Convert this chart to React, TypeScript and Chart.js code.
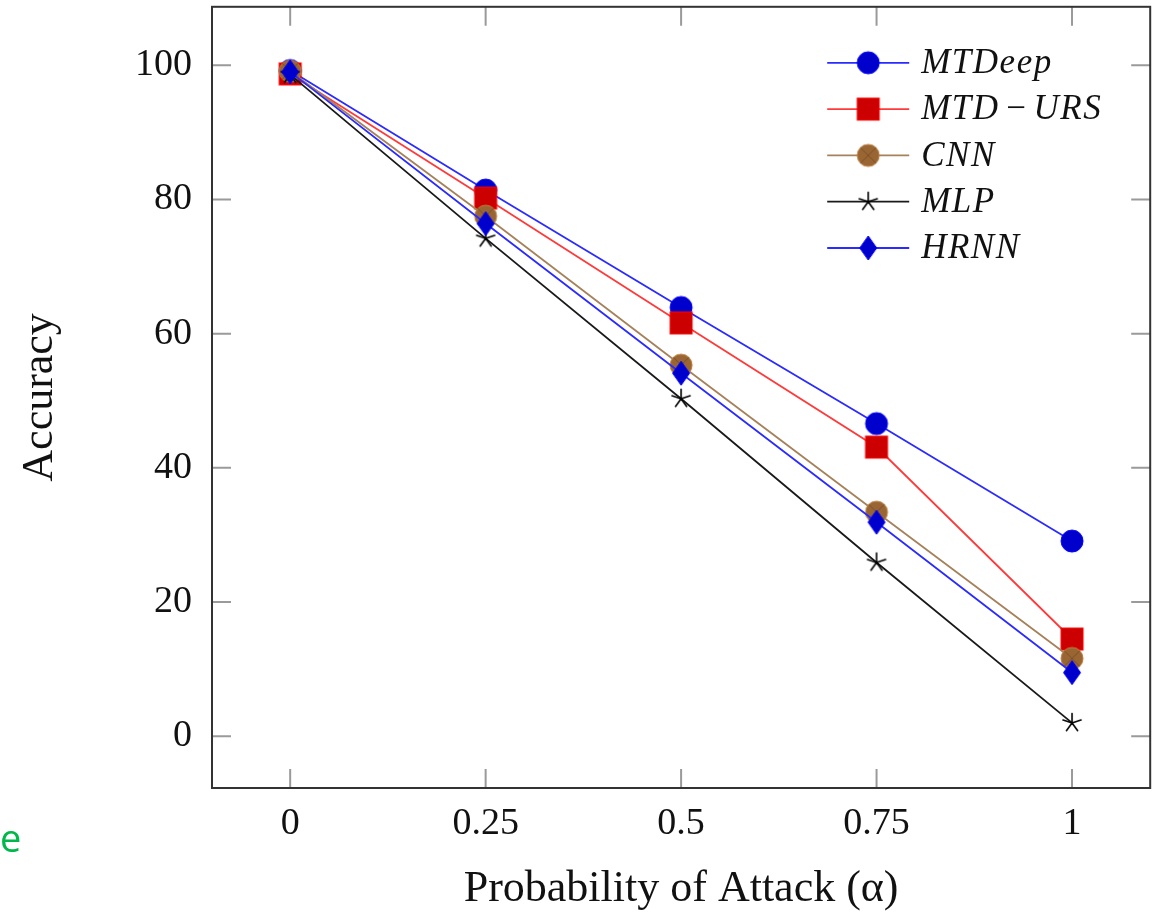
import React, { useEffect, useRef } from "react";
import { Chart, registerables } from "chart.js";
Chart.register(...registerables);

const alphaValues = [0, 0.25, 0.5, 0.75, 1];
const xTickValues = [0, 0.25, 0.5, 0.75, 1];
const xTickLabels = ["0", "0.25", "0.5", "0.75", "1"];
const yTickValues = [0, 20, 40, 60, 80, 100];
const seriesNames = ["MTDeep", "MTD\u200A−\u200AURS", "CNN", "MLP", "HRNN"];
const mtdeep = [99.2, 81.4, 63.9, 46.6, 29.1];
const mtdUrs = [98.7, 80.2, 61.6, 43.1, 14.5];
const cnn = [99.1, 77.5, 55.3, 33.4, 11.6];
const mlp = [98.6, 74.2, 50.3, 25.9, 2.0];
const hrnn = [99.0, 76.4, 54.1, 31.9, 9.5];

const SERIF = "'Liberation Serif', 'DejaVu Serif', serif";

function mk(w: number, h: number, draw: (c: CanvasRenderingContext2D) => void) {
  const cv = document.createElement("canvas");
  cv.width = w;
  cv.height = h;
  const c = cv.getContext("2d")!;
  draw(c);
  return cv;
}

function makeMarkers() {
  const circle = mk(26, 26, (c) => {
    c.beginPath();
    c.arc(13, 13, 11, 0, Math.PI * 2);
    c.fillStyle = "#0000cc";
    c.fill();
    c.strokeStyle = "#0000ff";
    c.lineWidth = 1;
    c.stroke();
  });
  const square = mk(26, 26, (c) => {
    c.fillStyle = "#cc0000";
    c.fillRect(2, 2, 22, 22);
    c.strokeStyle = "#ff0000";
    c.lineWidth = 1;
    c.strokeRect(2, 2, 22, 22);
  });
  const otimes = mk(26, 26, (c) => {
    c.beginPath();
    c.arc(13, 13, 11, 0, Math.PI * 2);
    c.fillStyle = "#996633";
    c.fill();
    c.strokeStyle = "#bf8040";
    c.lineWidth = 1;
    c.stroke();
    c.beginPath();
    const d = 11 * Math.SQRT1_2;
    c.moveTo(13 - d, 13 - d);
    c.lineTo(13 + d, 13 + d);
    c.moveTo(13 + d, 13 - d);
    c.lineTo(13 - d, 13 + d);
    c.strokeStyle = "#7a5026";
    c.stroke();
  });
  const star = mk(24, 24, (c) => {
    c.beginPath();
    for (let k = 0; k < 5; k++) {
      const a = -Math.PI / 2 + (k * 2 * Math.PI) / 5;
      c.moveTo(12, 12);
      c.lineTo(12 + 9.5 * Math.cos(a), 12 + 9.5 * Math.sin(a));
    }
    c.strokeStyle = "#000000";
    c.lineWidth = 1.6;
    c.lineCap = "round";
    c.stroke();
  });
  const diamond = mk(20, 26, (c) => {
    c.beginPath();
    c.moveTo(10, 1);
    c.lineTo(18.5, 13);
    c.lineTo(10, 25);
    c.lineTo(1.5, 13);
    c.closePath();
    c.fillStyle = "#0000cc";
    c.fill();
    c.strokeStyle = "#0000ff";
    c.lineWidth = 1;
    c.stroke();
  });
  return [circle, square, otimes, star, diamond];
}

export default function App() {
  const ref = useRef<HTMLCanvasElement | null>(null);

  useEffect(() => {
    if (!ref.current) return;
    const markers = makeMarkers();
    const values = [mtdeep, mtdUrs, cnn, mlp, hrnn];
    const lineColors = ["#2b2bff", "#ff3a3a", "#a5825c", "#1a1a1a", "#2b2bff"];

    const datasets = values.map((vals, i) => ({
      label: seriesNames[i],
      data: vals.map((v, j) => ({ x: alphaValues[j], y: v })),
      borderColor: lineColors[i],
      backgroundColor: lineColors[i],
      borderWidth: 1.8,
      pointStyle: markers[i] as any,
      pointRadius: 10,
      pointHoverRadius: 10,
      tension: 0,
      order: 5 - i,
    }));

    const framePlugin = {
      id: "frame",
      beforeDatasetsDraw(chart: any) {
        const { ctx, chartArea: a, scales } = chart;
        ctx.save();
        ctx.strokeStyle = "#9a9a9a";
        ctx.lineWidth = 2;
        const tl = 19;
        ctx.beginPath();
        xTickValues.forEach((v) => {
          const px = scales.x.getPixelForValue(v);
          ctx.moveTo(px, a.bottom);
          ctx.lineTo(px, a.bottom - tl);
          ctx.moveTo(px, a.top);
          ctx.lineTo(px, a.top + tl);
        });
        yTickValues.forEach((v) => {
          const py = scales.y.getPixelForValue(v);
          ctx.moveTo(a.left, py);
          ctx.lineTo(a.left + tl, py);
          ctx.moveTo(a.right, py);
          ctx.lineTo(a.right - tl, py);
        });
        ctx.stroke();
        ctx.strokeStyle = "#333333";
        ctx.lineWidth = 2;
        ctx.strokeRect(a.left, a.top, a.right - a.left, a.bottom - a.top);
        ctx.restore();
      },
      afterDatasetsDraw(chart: any) {
        const { ctx, chartArea: a } = chart;
        ctx.save();
        const x0 = a.right - 323;
        const x1 = a.right - 241;
        const mx = (x0 + x1) / 2;
        const tx = a.right - 229;
        seriesNames.forEach((name, i) => {
          const y = a.top + 56 + i * 46.3;
          ctx.beginPath();
          ctx.moveTo(x0, y);
          ctx.lineTo(x1, y);
          ctx.strokeStyle = lineColors[i];
          ctx.lineWidth = 1.8;
          ctx.stroke();
          const m = markers[i];
          ctx.drawImage(m, mx - m.width / 2, y - m.height / 2);
          ctx.fillStyle = "#111111";
          ctx.font = `italic 35px ${SERIF}`;
          (ctx as any).letterSpacing = "1.5px";
          ctx.textBaseline = "middle";
          ctx.textAlign = "left";
          ctx.fillText(name, tx, y + 1);
        });
        ctx.restore();
      },
    };

    const chart = new Chart(ref.current, {
      type: "line",
      data: { datasets: datasets as any },
      plugins: [framePlugin],
      options: {
        animation: false,
        responsive: false,
        maintainAspectRatio: false,
        layout: { padding: { left: 0, top: 2, right: 11, bottom: 0 } },
        plugins: { legend: { display: false }, tooltip: { enabled: false } },
        scales: {
          x: {
            type: "linear",
            min: -0.1,
            max: 1.1,
            grid: { display: false, drawTicks: false },
            border: { display: false },
            afterBuildTicks: (s: any) => {
              s.ticks = xTickValues.map((v) => ({ value: v }));
            },
            afterFit: (s: any) => {
              s.height = 129;
              s.paddingLeft = 0;
              s.paddingRight = 0;
            },
            ticks: {
              padding: 13,
              color: "#111111",
              font: { family: SERIF, size: 38 },
              callback: (v: any) => {
                const i = xTickValues.indexOf(Number(v));
                return i >= 0 ? xTickLabels[i] : "";
              },
              maxRotation: 0,
              autoSkip: false,
            },
            title: {
              display: true,
              text: "Probability of Attack (α)",
              color: "#111111",
              font: { family: SERIF, size: 44 },
              padding: { top: 0, bottom: 1 },
            },
          },
          y: {
            type: "linear",
            min: -7.7,
            max: 108.7,
            grid: { display: false, drawTicks: false },
            border: { display: false },
            afterBuildTicks: (s: any) => {
              s.ticks = yTickValues.map((v) => ({ value: v }));
            },
            afterFit: (s: any) => {
              s.width = 212;
              s.paddingTop = 0;
              s.paddingBottom = 0;
            },
            ticks: {
              padding: 20,
              color: "#111111",
              font: { family: SERIF, size: 38 },
              autoSkip: false,
            },
            title: {
              display: true,
              text: "Accuracy",
              color: "#111111",
              font: { family: SERIF, size: 44 },
              padding: { top: 14, bottom: 0 },
            },
          },
        },
      },
    });
    return () => chart.destroy();
  }, []);

  return (
    <div style={{ position: "fixed", left: 0, top: 0, width: 1162, height: 917, background: "#fff", overflow: "hidden" }}>
      <canvas
        ref={ref}
        width={1162}
        height={922}
        style={{ display: "block", position: "absolute", left: 0, top: -5 }}
      />
      <span
        style={{
          position: "absolute",
          left: 0,
          top: 815,
          fontFamily: "'Open Sans', 'Noto Sans', sans-serif",
          fontSize: 38,
          lineHeight: "44px",
          color: "#00b84a",
        }}
      >
        e
      </span>
    </div>
  );
}
